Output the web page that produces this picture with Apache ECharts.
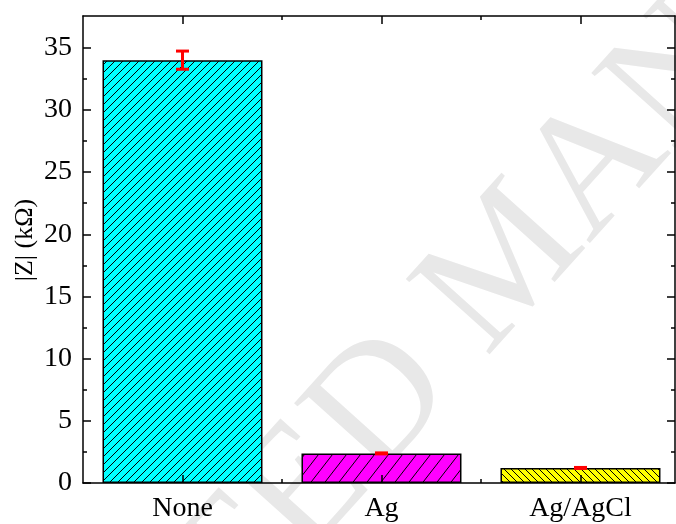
<!DOCTYPE html>
<html>
<head>
<meta charset="utf-8">
<script src="https://cdn.jsdelivr.net/npm/echarts@6/dist/echarts.min.js"></script>
<style>html,body{margin:0;padding:0;background:#fff}#c{width:676px;height:524px}</style>
</head>
<body>
<div id="c"></div>
<script>
// ---- data ----
var categories = ['None', 'Ag', 'Ag/AgCl'];
var categoryPos = [1, 2, 3];
var impedance = [34.0, 2.38, 1.21];
var errors = [0.73, 0.04, 0.04];
var yMajorTicks = [0, 5, 10, 15, 20, 25, 30, 35];
var yMinorTicks = [2.5, 7.5, 12.5, 17.5, 22.5, 27.5, 32.5];
var xMinorTicks = [1.5, 2.5];
var yName = '|Z| (kΩ)';
var watermark = 'ACCEPTED MANUSCRIPT';

function hatch(bg, w, h, dir) {
  var c = document.createElement('canvas');
  c.width = w; c.height = h;
  var g = c.getContext('2d');
  g.fillStyle = bg; g.fillRect(0, 0, w, h);
  g.strokeStyle = '#000'; g.lineWidth = 1;
  g.beginPath();
  var ex = w * 0.15, ey = h * 0.15;
  if (dir > 0) {
    g.moveTo(-ex, h + ey); g.lineTo(w + ex, -ey);
    g.moveTo(-ex, ey); g.lineTo(ex, -ey);
    g.moveTo(w - ex, h + ey); g.lineTo(w + ex, h - ey);
  } else {
    g.moveTo(-ex, -ey); g.lineTo(w + ex, h + ey);
    g.moveTo(w - ex, -ey); g.lineTo(w + ex, ey);
    g.moveTo(-ex, h - ey); g.lineTo(ex, h + ey);
  }
  g.stroke();
  return c;
}
var fills = [
  {image: hatch('#00ffff', 8, 8, 1), repeat: 'repeat'},
  {image: hatch('#ff00ff', 14, 18, 1), repeat: 'repeat'},
  {image: hatch('#ffff00', 7, 7, -1), repeat: 'repeat'}
];

var FONT = '"Liberation Serif", "Times New Roman", serif';
var X_MIN = 0.5, X_MAX = 3.475, Y_MIN = 0, Y_MAX = 37.55;
var lineStyle = {color: '#000', width: 1.5};

function xAx(pos, ticks, len, showLine, showLabel) {
  return {
    type: 'value', position: pos, min: X_MIN, max: X_MAX, z: 10,
    axisLine: {show: showLine, onZero: false, lineStyle: lineStyle},
    axisTick: {show: true, inside: true, length: len, customValues: ticks, lineStyle: {color: '#000', width: 1.5}},
    axisLabel: {show: showLabel, customValues: categoryPos, margin: 12, color: '#000', fontFamily: FONT, fontSize: 28,
      formatter: function (v) { var i = categoryPos.indexOf(v); return i >= 0 ? categories[i] : ''; }},
    splitLine: {show: false}
  };
}
function yAx(pos, ticks, len, showLine, showLabel) {
  return {
    type: 'value', position: pos, min: Y_MIN, max: Y_MAX, z: 10,
    axisLine: {show: showLine, onZero: false, lineStyle: lineStyle},
    axisTick: {show: true, inside: true, length: len, customValues: ticks, lineStyle: {color: '#000', width: 1.5}},
    axisLabel: {show: showLabel, customValues: yMajorTicks, margin: 11, color: '#000', fontFamily: FONT, fontSize: 28},
    splitLine: {show: false}
  };
}

var chart = echarts.init(document.getElementById('c'));
chart.setOption({
  animation: false,
  backgroundColor: '#fff',
  grid: {left: 83, right: 1, top: 16, bottom: 41},
  graphic: [{
    type: 'text', z: -100, x: 512, y: 262, rotation: 48 * Math.PI / 180,
    style: {text: watermark, fontFamily: FONT, fontSize: 172, fill: '#e8e8e8', align: 'center', verticalAlign: 'middle'}
  }, {
    type: 'text', z: 100, x: 25, y: 240, rotation: Math.PI / 2,
    style: {text: yName, fontFamily: FONT, fontSize: 26, fill: '#000', align: 'center', verticalAlign: 'middle'}
  }],
  xAxis: [
    xAx('bottom', categoryPos, 8, true, true),
    xAx('bottom', xMinorTicks, 4, false, false),
    xAx('top', categoryPos, 8, true, false),
    xAx('top', xMinorTicks, 4, false, false)
  ],
  yAxis: [
    yAx('left', yMajorTicks, 8, true, true),
    yAx('left', yMinorTicks, 4, false, false),
    yAx('right', yMajorTicks, 8, true, false),
    yAx('right', yMinorTicks, 4, false, false)
  ],
  series: [{
    type: 'bar', xAxisIndex: 0, yAxisIndex: 0, barWidth: 160, z: 2,
    data: categoryPos.map(function (x, i) {
      return {value: [x, impedance[i]], itemStyle: {color: fills[i], borderColor: '#000', borderWidth: 1.5}};
    })
  }, {
    type: 'custom', xAxisIndex: 0, yAxisIndex: 0, z: 5,
    data: categoryPos.map(function (x, i) { return [x, impedance[i], errors[i]]; }),
    renderItem: function (params, api) {
      var x = api.value(0), y = api.value(1), e = api.value(2);
      var hi = api.coord([x, y + e]), lo = api.coord([x, y - e]);
      var w = 6.5;
      var st = {stroke: '#ff0000', lineWidth: 3};
      return {type: 'group', children: [
        {type: 'line', shape: {x1: hi[0], y1: hi[1], x2: lo[0], y2: lo[1]}, style: st},
        {type: 'line', shape: {x1: hi[0] - w, y1: hi[1], x2: hi[0] + w, y2: hi[1]}, style: st},
        {type: 'line', shape: {x1: lo[0] - w, y1: lo[1], x2: lo[0] + w, y2: lo[1]}, style: st}
      ]};
    }
  }]
});
</script>
</body>
</html>
